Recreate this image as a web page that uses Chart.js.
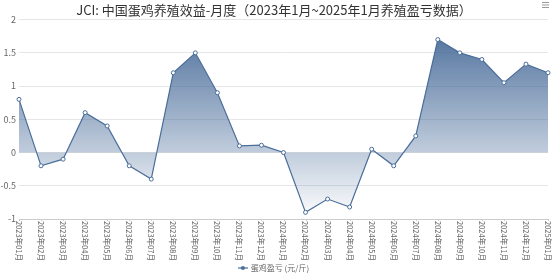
<!DOCTYPE html>
<html>
<head>
<meta charset="utf-8">
<script src="https://cdn.jsdelivr.net/npm/chart.js@4.4.1/dist/chart.umd.min.js"></script>
<style>
    html, body { margin: 0; padding: 0; background: #fff; }
    #wrap { width: 553px; height: 278px; position: relative; }
</style>
</head>
<body>
<div id="wrap"><canvas id="eggChart"></canvas></div>
<script>
// Chart data
const months = [
    '2023年01月', '2023年02月', '2023年03月', '2023年04月', '2023年05月', '2023年06月',
    '2023年07月', '2023年08月', '2023年09月', '2023年10月', '2023年11月', '2023年12月',
    '2024年01月', '2024年02月', '2024年03月', '2024年04月', '2024年05月', '2024年06月',
    '2024年07月', '2024年08月', '2024年09月', '2024年10月', '2024年11月', '2024年12月',
    '2025年01月'
];
const profit = [
    0.80, -0.20, -0.10, 0.60, 0.40, -0.20, -0.40, 1.20, 1.50, 0.90, 0.10, 0.11,
    0.00, -0.90, -0.70, -0.82, 0.05, -0.20, 0.25, 1.70, 1.50, 1.40, 1.05, 1.33,
    1.20
];
const yTicks = [-1, -0.5, 0, 0.5, 1, 1.5, 2];

const lineColor = '#4a6d9a';
const fontFamily = '"Noto Sans CJK SC", "Microsoft YaHei", sans-serif';

// Legend icon: short line with a small circle
function legendIcon() {
    const c = document.createElement('canvas');
    c.width = 10; c.height = 8;
    const g = c.getContext('2d');
    g.strokeStyle = lineColor;
    g.lineWidth = 1.2;
    g.beginPath(); g.moveTo(0, 4); g.lineTo(10, 4); g.stroke();
    g.fillStyle = lineColor;
    g.beginPath(); g.arc(5, 4, 2, 0, Math.PI * 2); g.fill();
    return c;
}

// Draw rotated month labels (reading top to bottom) and the menu icon
const extrasPlugin = {
    id: 'extras',
    afterLayout(chart) {
        // nudge the legend a little lower
        if (chart.legend) {
            chart.legend.top += 4;
            chart.legend.bottom += 4;
        }
    },
    afterDraw(chart) {
        const ctx = chart.ctx;
        const x = chart.scales.x;
        const bottom = chart.chartArea.bottom;
        ctx.save();
        ctx.fillStyle = '#666';
        ctx.font = '8px ' + fontFamily;
        ctx.textAlign = 'left';
        ctx.textBaseline = 'middle';
        months.forEach((m, i) => {
            const px = x.getPixelForValue(i);
            const w = ctx.measureText(m).width;
            ctx.save();
            ctx.translate(px, bottom + 2);
            ctx.rotate(Math.PI / 2);
            ctx.scale(Math.min(1, 40 / w), 1);
            ctx.fillText(m, 0, 0);
            ctx.restore();
        });
        // tick marks under axis
        ctx.strokeStyle = '#ccc';
        ctx.lineWidth = 1;
        months.forEach((m, i) => {
            const px = Math.round(x.getPixelForValue(i)) + 0.5;
            ctx.beginPath(); ctx.moveTo(px, bottom); ctx.lineTo(px, bottom + 2); ctx.stroke();
        });
        // hamburger menu
        ctx.fillStyle = '#999';
        [2, 4.5, 7].forEach(yy => ctx.fillRect(542, yy, 7, 1));
        ctx.restore();
    }
};

const ctx = document.getElementById('eggChart').getContext('2d');
new Chart(ctx, {
    type: 'line',
    data: {
        labels: months,
        datasets: [{
            label: '蛋鸡盈亏 (元/斤)',
            data: profit,
            borderColor: lineColor,
            borderWidth: 1.2,
            tension: 0,
            fill: 'origin',
            backgroundColor: function(context) {
                const chart = context.chart;
                const area = chart.chartArea;
                if (!area) return 'rgba(74,109,154,0.4)';
                const y = chart.scales.y;
                const top = y.getPixelForValue(Math.max(...profit));
                const bot = y.getPixelForValue(Math.min(...profit));
                const grad = chart.ctx.createLinearGradient(0, top, 0, bot);
                grad.addColorStop(0, 'rgba(74,109,154,0.92)');
                grad.addColorStop(1, 'rgba(74,109,154,0.04)');
                return grad;
            },
            pointRadius: 2,
            pointBackgroundColor: '#fff',
            pointBorderColor: lineColor,
            pointBorderWidth: 1,
            pointStyle: 'circle'
        }]
    },
    options: {
        responsive: true,
        maintainAspectRatio: false,
        animation: false,
        layout: { padding: { left: 0, right: 5, top: 0, bottom: 0 } },
        plugins: {
            title: {
                display: true,
                text: 'JCI: 中国蛋鸡养殖效益-月度（2023年1月~2025年1月养殖盈亏数据）',
                color: '#333',
                font: { family: fontFamily, size: 13, weight: 'normal' },
                padding: { top: 2, bottom: 2 }
            },
            legend: {
                position: 'bottom',
                labels: {
                    usePointStyle: true,
                    pointStyle: legendIcon(),
                    color: '#666',
                    font: { family: fontFamily, size: 8 },
                    padding: 1,
                    boxHeight: 8
                }
            },
            tooltip: { enabled: false }
        },
        scales: {
            x: {
                offset: false,
                grid: { display: false, drawTicks: false },
                border: { display: true, color: '#ccc' },
                ticks: { display: false },
                afterFit(scale) { scale.height = 40; }
            },
            y: {
                min: -1,
                max: 2,
                afterBuildTicks(scale) { scale.ticks = yTicks.map(v => ({ value: v })); },
                grid: { color: '#e6e6e6', drawTicks: false },
                border: { display: false },
                ticks: {
                    color: '#666',
                    font: { family: fontFamily, size: 9 },
                    padding: 3,
                    callback: v => String(v)
                },
                afterFit(scale) { scale.width = 19; }
            }
        }
    },
    plugins: [extrasPlugin]
});
</script>
</body>
</html>
